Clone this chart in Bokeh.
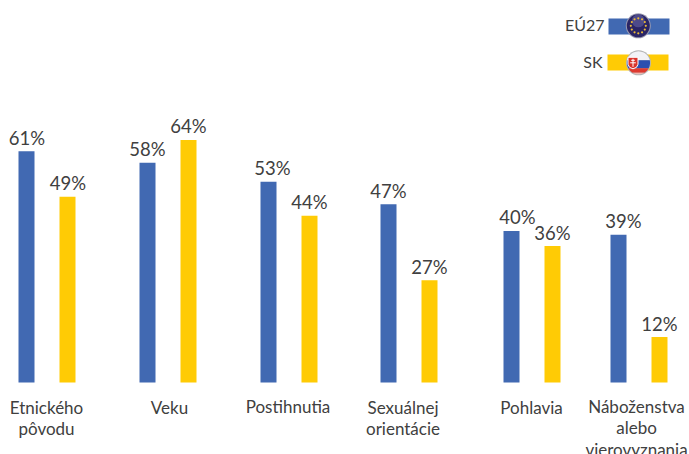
import numpy as np
from bokeh.embed import file_html
from bokeh.resources import INLINE
from bokeh.plotting import figure
from bokeh.models import Range1d
from bokeh.core.properties import value

categories = [["Etnického", "pôvodu"], ["Veku"], ["Postihnutia"], ["Sexuálnej", "orientácie"], ["Pohlavia"], ["Náboženstva", "alebo", "vierovyznania"]]
eu27 = [61, 58, 53, 47, 40, 39]
sk = [49, 64, 44, 27, 36, 12]
series_names = ["EÚ27", "SK"]

BLUE = "#4169B2"
YELLOW = "#FFCB05"
TEXT = "#404040"
FONT = "Lato"

group_x = [46.5, 167.5, 288.5, 408.5, 531.5, 638.5]
label_x = [46, 169, 287.5, 402.5, 531, 636]
label_base = [406.5, 406.5, 405.5, 406.5, 406.5, 405.5]
eu_lab_dx = [0.5, 0, 4, 0, 6, 5]
sk_lab_dx = [0.5, 0, 0, 0, 0, 0]
LINE_STEP = 21.5

PX = 3.79
p = figure(width=689, height=454, output_backend="svg", toolbar_location=None,
           x_range=Range1d(0, 689), y_range=Range1d(-72 / PX, 382 / PX),
           min_border=0, outline_line_color=None, x_axis_location=None, y_axis_location=None)
p.grid.visible = False
p.extra_y_ranges = {"px": Range1d(454, 0)}

gx = np.array(group_x)
p.vbar(x=gx - 20.5, top=eu27, bottom=0, width=16, color=BLUE, line_color=None)
p.vbar(x=gx + 20.5, top=sk, bottom=0, width=16, color=YELLOW, line_color=None)

vf = dict(text_font=value(FONT), text_color=TEXT, text_font_size="18.5px", text_align="center",
          text_baseline="alphabetic", y_offset=-13.5)
p.text(x=gx - 20.5 + np.array(eu_lab_dx), y=eu27, text=[f"{v}%" for v in eu27], **vf)
p.text(x=gx + 20.5 + np.array(sk_lab_dx), y=sk, text=[f"{v}%" for v in sk], **vf)

lx, ly, lt = [], [], []
for cat, x0, y0 in zip(categories, label_x, label_base):
    for i, line in enumerate(cat):
        lx.append(x0)
        ly.append(y0 + i * LINE_STEP)
        lt.append(line)
p.text(x=lx, y=ly, text=lt, y_range_name="px", text_font=value(FONT), text_color=TEXT,
       text_font_size="17px", text_align="center", text_baseline="alphabetic")

# legend
p.quad(left=[608, 607], right=[669, 668], top=[18, 54], bottom=[34, 70], y_range_name="px",
       color=[BLUE, YELLOW], line_color=None)
p.text(x=[604, 602], y=[24, 60.5], y_range_name="px", text=series_names, text_baseline="alphabetic",
       text_font=value(FONT), text_color=TEXT, text_font_size="16px", text_align="right")

# EU flag badge
cx, cy, r = 637.8, 25.3, 12
p.circle(x=[cx], y=[cy], radius=r + 0.5, y_range_name="px", color="#9A9AB0", line_color=None)
p.circle(x=[cx], y=[cy], radius=r - 0.5, y_range_name="px", color="#2A2566", line_color=None)
p.circle(x=[cx], y=[cy - 5], radius=6.5, y_range_name="px", color="#6A6AA8", line_color=None, alpha=0.55)
ang = np.arange(12) * np.pi / 6
p.scatter(x=cx + 7.5 * np.cos(ang), y=cy + 7.5 * np.sin(ang), y_range_name="px", marker="circle",
          size=2.2, color="#E8B838", line_color=None)

# SK flag badge
cx, cy = 638, 62.3
p.circle(x=[cx], y=[cy], radius=r + 0.5, y_range_name="px", color="#B5B5B5", line_color=None)
def band(y0, y1, col):
    ys = np.linspace(y0, y1, 16)
    hw = np.sqrt(np.maximum((r - 0.5) ** 2 - ys ** 2, 0))
    p.patch(x=np.r_[cx - hw, (cx + hw)[::-1]], y=np.r_[cy + ys, (cy + ys)[::-1]],
            y_range_name="px", color=col, line_color=None)
band(-11.5, -2.5, "#F2F2F6")
band(-2.5, 5.5, "#2A4FB0")
band(5.5, 10, "#DE3A30")
band(10, 11.5, "#F2B8B0")
sx = cx - 5.5
p.patch(x=[sx - 5, sx + 5, sx + 5, sx + 3.5, sx, sx - 3.5, sx - 5],
        y=[cy - 5.5, cy - 5.5, cy + 1.5, cy + 4.5, cy + 6, cy + 4.5, cy + 1.5], y_range_name="px",
        color="#D9322A", line_color="#FFFFFF", line_width=1)
p.segment(x0=[sx, sx - 1.8, sx - 2.8], x1=[sx, sx + 1.8, sx + 2.8], y0=[cy - 4, cy - 2.5, cy], y1=[cy + 4, cy - 2.5, cy],
          y_range_name="px", line_color="#FFFFFF", line_width=1)

open("out.html", "w").write(file_html(p, INLINE))
